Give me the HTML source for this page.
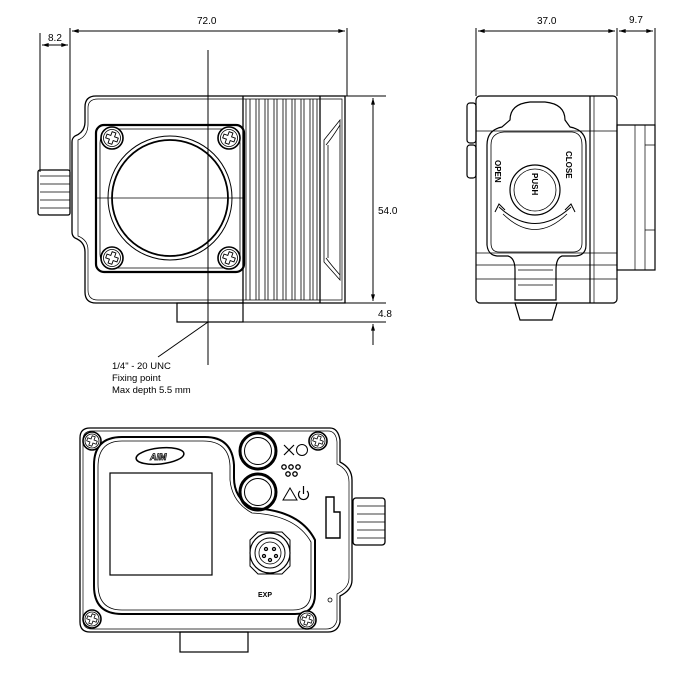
<!DOCTYPE html>
<html><head><style>html,body{margin:0;padding:0;background:#fff}svg{display:block}</style></head>
<body>
<svg width="688" height="676" viewBox="0 0 688 676" xmlns="http://www.w3.org/2000/svg" font-family="Liberation Sans, sans-serif">
<defs>
<marker id="a" viewBox="0 0 10 6" refX="10" refY="3" markerWidth="8" markerHeight="4" orient="auto-start-reverse"><path d="M0,0L10,3L0,6z" fill="#000"/></marker>
<g id="scr"><circle r="11" fill="#fff" stroke="#000" stroke-width="1.6"/><circle r="8.5" fill="none" stroke="#000" stroke-width="0.8"/><path d="M-2,-6h4v4h4v4h-4v4h-4v-4h-4v-4h4z" fill="none" stroke="#000" stroke-width="0.9" transform="rotate(20)"/></g>
<g id="scr2"><circle r="9" fill="#fff" stroke="#000" stroke-width="1.6"/><circle r="7" fill="none" stroke="#000" stroke-width="0.8"/><path d="M-1.6,-5h3.2v3.4h3.4v3.2h-3.4v3.4h-3.2v-3.4h-3.4v-3.2h3.4z" fill="none" stroke="#000" stroke-width="0.8" transform="rotate(20)"/></g>
</defs>
<g stroke="#000" fill="none">
<g stroke-width="1">
<line x1="70" y1="28" x2="70" y2="172"/><line x1="347" y1="28" x2="347" y2="96"/><line x1="40" y1="33" x2="40" y2="172"/>
<line x1="72" y1="31" x2="345" y2="31" marker-start="url(#a)" marker-end="url(#a)"/>
<line x1="42" y1="45" x2="68" y2="45" marker-start="url(#a)" marker-end="url(#a)"/>
<line x1="208" y1="50" x2="208" y2="365"/>
<line x1="345" y1="96" x2="386" y2="96"/><line x1="345" y1="303" x2="386" y2="303"/><line x1="243" y1="322" x2="386" y2="322"/>
<line x1="373" y1="98" x2="373" y2="301" marker-start="url(#a)" marker-end="url(#a)"/>
<line x1="373" y1="324" x2="373" y2="345" marker-start="url(#a)"/>
<line x1="208" y1="322" x2="158" y2="357"/>
</g>
<g stroke-width="1.3">
<path d="M96,96H345V303H96Q85,303 85,292V252Q85,242 75,238Q72,236 72,232V142Q72,138 75,136Q85,132 85,122V107Q85,96 96,96z"/>
<path d="M98,99H342V300H98Q88,300 88,290V250Q88,240 78,236V140Q88,136 88,124V108Q88,99 98,99z" stroke-width="0.7"/>
<rect x="38" y="170" width="32" height="45" rx="2"/>
<path d="M40,176h30M40,184h30M40,192h30M40,200h30M40,208h30" stroke-width="0.8"/>
<rect x="96" y="125" width="148" height="147" rx="8" stroke-width="2.2"/>
<rect x="100" y="129" width="140" height="139" rx="14" stroke-width="0.8"/>
<circle cx="170" cy="198" r="62" stroke-width="1"/>
<circle cx="170" cy="198" r="58" stroke-width="1.8"/>
<line x1="96" y1="198" x2="244" y2="198" stroke-width="0.8"/>
<rect x="177" y="303" width="66" height="19" stroke-width="1.2"/>
<line x1="243" y1="96" x2="243" y2="303"/><line x1="320" y1="96" x2="320" y2="303"/>
<g stroke-width="0.8">
<path d="M246,99V300M250,99V300M256,99V300M259,99V300M265,99V300M268,99V300M274,99V300M277,99V300M283,99V300M286,99V300M292,99V300M295,99V300M301,99V300M304,99V300M310,99V300M313,99V300M317,99V300"/>
</g>
<path d="M324,140L340,120V280L324,262z" stroke-width="0.8"/>
<path d="M326,145Q332,138 340,125M326,258Q332,266 340,275" stroke-width="0.8"/>
<line x1="328" y1="145" x2="328" y2="258" stroke-width="0.8"/>
</g>
<use href="#scr" x="112" y="138"/><use href="#scr" x="229" y="138"/><use href="#scr" x="112" y="258"/><use href="#scr" x="229" y="258"/>

<g stroke-width="1">
<line x1="476" y1="28" x2="476" y2="96"/><line x1="617" y1="28" x2="617" y2="96"/><line x1="655" y1="28" x2="655" y2="125"/>
<line x1="478" y1="31" x2="615" y2="31" marker-start="url(#a)" marker-end="url(#a)"/>
<line x1="619" y1="31" x2="653" y2="31" marker-start="url(#a)" marker-end="url(#a)"/>
</g>
<g stroke-width="1.2">
<rect x="476" y="96" width="141" height="207" rx="4"/>
<line x1="590" y1="96" x2="590" y2="303"/><line x1="594" y1="96" x2="594" y2="303" stroke-width="0.7"/>
<path d="M476,131H617M476,253H617M476,265H617M476,279H617" stroke-width="0.7"/>
<rect x="617" y="125" width="38" height="145"/>
<path d="M635,125V270M645,125V270M645,145H655M645,230H655" stroke-width="0.7"/>
<rect x="467" y="103" width="9" height="40" rx="3"/><rect x="467" y="145" width="9" height="33" rx="3"/>
<path d="M510,120Q510,104 530,102H545Q565,104 565,120L570,127Q586,130 586,145V245Q586,255 576,256H562Q556,258 556,270V300H515V270Q515,258 508,256H497Q488,255 487,245V145Q487,130 502,127z"/>
<path d="M504,132H572Q582,133 582,145V243Q582,252 573,252H499Q491,252 491,243V145Q491,133 504,132z" stroke-width="0.8"/>
<circle cx="535" cy="190" r="25" stroke-width="1.2"/><circle cx="535" cy="190" r="21" stroke-width="0.8"/>
<path d="M499,207Q535,240 571,207" stroke-width="1"/><path d="M503,214Q535,245 567,214" stroke-width="0.8"/>
<path d="M495,212L499,204L505,210M575,212L571,204L565,210" stroke-width="1"/>
<path d="M518,270H553M518,285H553" stroke-width="0.7"/>
<path d="M515,303H557L552,320H520z"/>
</g>
</g>
<g fill="#000" font-size="8" font-weight="bold">
<text transform="translate(495,160) rotate(90)">OPEN</text>
<text transform="translate(566,151) rotate(90)">CLOSE</text>
<text transform="translate(532,173) rotate(90)">PUSH</text>
</g>

<g stroke="#000" fill="none" stroke-width="1.3">
<path d="M90,428H330Q338,428 340,440V462Q352,468 352,480V580Q352,590 340,596V622Q338,632 328,632H90Q80,632 80,622V438Q80,428 90,428z"/>
<path d="M92,431H328Q336,431 337,442V464Q349,470 349,482V578Q349,588 337,594V620Q335,629 326,629H92Q83,629 83,620V440Q83,431 92,431z" stroke-width="0.7"/>
<rect x="353" y="498" width="32" height="47" rx="3"/>
<path d="M357,506h28M357,514h28M357,522h28M357,530h28M357,538h28" stroke-width="0.8"/>
<path d="M122,437H205Q232,437 234,465V478Q234,498 252,508Q300,510 315,540V594Q315,614 295,614H122Q94,614 94,586V465Q94,437 122,437z" stroke-width="2"/>
<path d="M122,441H203Q229,441 230,466V480Q232,502 252,513Q296,515 311,542V592Q311,610 293,610H122Q98,610 98,584V467Q98,441 122,441z" stroke-width="0.8"/>
<rect x="110" y="473" width="102" height="102" stroke-width="1.2"/>
<ellipse cx="160" cy="456" rx="24" ry="8" stroke-width="1.5" transform="rotate(-6 160 456)"/>
<circle cx="258" cy="451" r="18" stroke-width="3"/><circle cx="258" cy="451" r="13.5" stroke-width="1"/>
<circle cx="258" cy="492" r="18" stroke-width="3"/><circle cx="258" cy="492" r="13.5" stroke-width="1"/>
<path d="M284,445l10,10M294,445l-10,10" stroke-width="1.2"/><circle cx="302" cy="450" r="5.5" stroke-width="1"/>
<circle cx="284" cy="467" r="2.2"/><circle cx="291" cy="467" r="2.2"/><circle cx="298" cy="467" r="2.2"/><circle cx="288" cy="474" r="2.2"/><circle cx="295" cy="474" r="2.2"/>
<path d="M283,500L290,488L297,500z" stroke-width="1"/>
<path d="M300,491A5,5 0 1 0 307,491M303.5,486V494" stroke-width="1.2"/>
<path d="M326,497H334V512H340V538H326z" stroke-width="1.4"/>
<path d="M250,540L258,532H282L290,540V566L282,574H258L250,566z" stroke-width="1"/>
<circle cx="270" cy="553" r="20" stroke-width="1.2"/><circle cx="270" cy="553" r="15" stroke-width="1"/><circle cx="270" cy="553" r="11" stroke-width="0.8"/>
<circle cx="266" cy="549" r="1.5"/><circle cx="274" cy="549" r="1.5"/><circle cx="264" cy="556" r="1.5"/><circle cx="276" cy="556" r="1.5"/><circle cx="270" cy="560" r="1.5"/>
<circle cx="330" cy="600" r="2" stroke-width="0.8"/>
<rect x="180" y="632" width="68" height="20" stroke-width="1.2"/>
</g>
<text x="150" y="460" font-size="9" font-style="italic" font-weight="bold" fill="#fff" stroke="#000" stroke-width="0.7">AIM</text>
<text x="258" y="597" font-size="7" font-weight="bold" fill="#000">EXP</text>
<use href="#scr2" x="92" y="441"/><use href="#scr2" x="318" y="441"/><use href="#scr2" x="92" y="619"/><use href="#scr2" x="307" y="620"/>

<g font-size="10" fill="#000">
<text x="197" y="24">72.0</text>
<text x="48" y="41">8.2</text>
<text x="378" y="214">54.0</text>
<text x="378" y="317">4.8</text>
<text x="537" y="24">37.0</text>
<text x="629" y="23">9.7</text>
<text x="112" y="369" font-size="9.5">1/4" - 20 UNC</text>
<text x="112" y="381" font-size="9.5">Fixing point</text>
<text x="112" y="393" font-size="9.5">Max depth 5.5 mm</text>
</g>
</svg>
</body></html>
